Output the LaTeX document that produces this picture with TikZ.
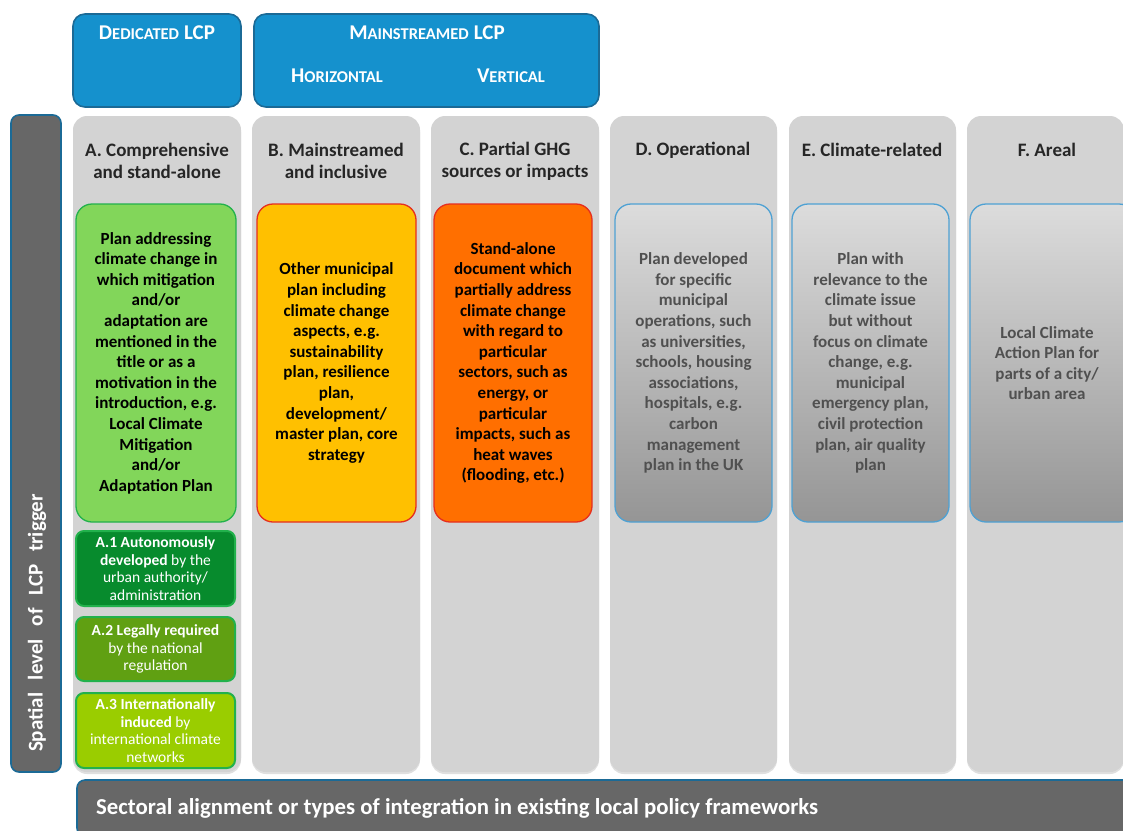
\documentclass[tikz,border=0pt]{standalone}
\usepackage{fontspec}
\setmainfont{Carlito}
\usetikzlibrary{shadows}
\definecolor{hdrblue}{HTML}{1591CD}
\definecolor{hdredge}{HTML}{1B6A96}
\definecolor{colgray}{HTML}{D3D3D3}
\definecolor{darkbar}{HTML}{676767}
\definecolor{greenfill}{HTML}{82D65A}
\definecolor{greenedge}{HTML}{22B14C}
\definecolor{aonefill}{HTML}{078B2D}
\definecolor{atwofill}{HTML}{60A012}
\definecolor{athreefill}{HTML}{9ACD00}
\definecolor{yellowfill}{HTML}{FFC000}
\definecolor{orangefill}{HTML}{FF6F00}
\definecolor{rededge}{HTML}{E62E1E}
\definecolor{lblueedge}{HTML}{4EA1D3}
\definecolor{graytext}{HTML}{505050}
\definecolor{gtop}{HTML}{DCDCDC}
\definecolor{gbot}{HTML}{959595}
\newcommand\bx[7]{\node[#6, minimum width={#4-#2}, minimum height={#5-#3}] (#1) at ({(#2+#4)/2},{(#3+#5)/2}) {#7};}
\newcommand\fsc[2]{{\fontsize{21}{24}\selectfont #1}{\fontsize{16.5}{24}\selectfont #2}}
\newcommand\scsp{\hspace{5pt}}
\tikzset{
  hdrbox/.style={draw=hdredge, line width=1.6pt, fill=hdrblue, rounded corners=12pt},
  hdrtext/.style={text=white, font=\bfseries, inner sep=0pt},
  column/.style={fill=colgray, rounded corners=14pt, drop shadow={shadow xshift=0pt, shadow yshift=-2pt, opacity=0.25}},
  coltitle/.style={font=\fontsize{19}{22}\selectfont\bfseries, align=center, text=black!85, inner sep=0pt},
  plan/.style={rounded corners=16pt, line width=1.3pt, align=center, font=\fontsize{17}{20.6}\selectfont\bfseries, inner sep=0pt},
  subplan/.style={rounded corners=8pt, line width=2pt, draw=greenedge, align=center, text=white, font=\fontsize{15.5}{17.5}\selectfont, inner sep=0pt},
  graybox/.style={plan, draw=lblueedge, top color=gtop, bottom color=gbot, text=graytext},
  darkbarbox/.style={draw=hdredge, line width=1.6pt, fill=darkbar, rounded corners=8pt},
}
\begin{document}
\begin{tikzpicture}[x=1pt, y=-1pt]
\useasboundingbox (0,0) rectangle (1123,830);
\clip (0,0) rectangle (1123,830);
% header boxes
\bx{ded}{73}{14}{241}{107}{hdrbox}{}
\bx{main}{254}{14}{599}{107}{hdrbox}{}
\node[hdrtext] (dedt) at (157,33) {\fsc{D}{EDICATED}\scsp\fsc{LCP}{}};
\node[hdrtext] (maint) at (427,33) {\fsc{M}{AINSTREAMED}\scsp\fsc{LCP}{}};
\node[hdrtext] (hort) at (337,76) {\fsc{H}{ORIZONTAL}};
\node[hdrtext] (vert) at (511,76) {\fsc{V}{ERTICAL}};
% left vertical bar
\bx{vbar}{11}{115}{61}{772}{darkbarbox}{}
\node[rotate=90, text=white, font=\fontsize{21}{24}\selectfont\bfseries, inner sep=0pt] (vbart) at (37,623) {Spatial\hspace{8pt} level\hspace{8pt} of\hspace{8pt} LCP\hspace{8pt} trigger};
% columns
\bx{colA}{73}{116}{241}{772}{column}{}
\bx{colB}{252}{116}{420}{772}{column}{}
\bx{colC}{431}{116}{599}{772}{column}{}
\bx{colD}{610}{116}{777}{772}{column}{}
\bx{colE}{789}{116}{956}{772}{column}{}
\bx{colF}{967}{116}{1124}{772}{column}{}
\node[coltitle] (tA) at (157,161) {A. Comprehensive\\and stand-alone};
\node[coltitle] (tB) at (336,161) {B. Mainstreamed\\and inclusive};
\node[coltitle] (tC) at (515,161) {C. Partial GHG\\sources or impacts};
\node[coltitle] (tD) at (693,150) {D. Operational};
\node[coltitle] (tE) at (872,150) {E. Climate-related};
\node[coltitle] (tF) at (1047,150) {F. Areal};
% plan boxes
\bx{pA}{76}{204}{236}{522}{plan, draw=greenedge, fill=greenfill}{Plan addressing\\climate change in\\which mitigation\\and/or\\adaptation are\\mentioned in the\\title or as a\\motivation in the\\introduction, e.g.\\Local Climate\\Mitigation\\and/or\\Adaptation Plan}
\bx{pB}{257}{204}{416}{522}{plan, draw=rededge, fill=yellowfill}{Other municipal\\plan including\\climate change\\aspects, e.g.\\sustainability\\plan, resilience\\plan,\\development/\\master plan, core\\strategy}
\bx{pC}{434}{204}{592}{522}{plan, draw=rededge, fill=orangefill}{Stand-alone\\document which\\partially address\\climate change\\with regard to\\particular\\sectors, such as\\energy, or\\particular\\impacts, such as\\heat waves\\(flooding, etc.)}
\bx{pD}{615}{204}{772}{522}{graybox}{Plan developed\\for specific\\municipal\\operations, such\\as universities,\\schools, housing\\associations,\\hospitals, e.g.\\carbon\\management\\plan in the UK}
\bx{pE}{792}{204}{949}{522}{graybox}{Plan with\\relevance to the\\climate issue\\but without\\focus on climate\\change, e.g.\\municipal\\emergency plan,\\civil protection\\plan, air quality\\plan}
\bx{pF}{970}{204}{1135}{522}{graybox}{}
\node[font=\fontsize{17}{20.6}\selectfont\bfseries, text=graytext, align=center, inner sep=0pt] (pFt) at (1047,363) {Local Climate\\Action Plan for\\parts of a city/\\urban area};
% sub plans
\bx{a1}{76}{531}{235}{606}{subplan, fill=aonefill}{\textbf{A.1 Autonomously}\\\textbf{developed} by the\\urban authority/\\administration}
\bx{a2}{76}{617}{235}{681}{subplan, fill=atwofill}{\textbf{A.2 Legally required}\\by the national\\regulation}
\bx{a3}{76}{693}{235}{768}{subplan, fill=athreefill}{\textbf{A.3 Internationally}\\\textbf{induced} by\\international climate\\networks}
% bottom bar
\bx{hbar}{77}{780}{1140}{836}{darkbarbox}{}
\node[anchor=west, text=white, font=\fontsize{22.8}{26}\selectfont\bfseries, inner sep=0pt] (hbart) at (96,808) {Sectoral alignment or types of integration in existing local policy frameworks};
\end{tikzpicture}
\end{document}
